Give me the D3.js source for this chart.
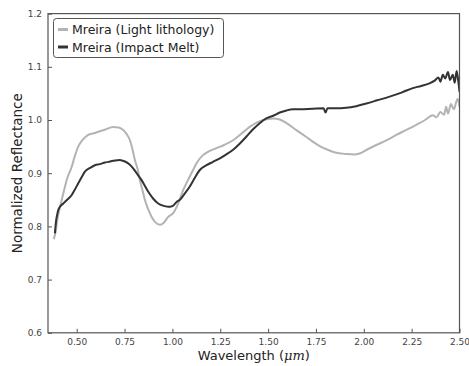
<!DOCTYPE html>
<html><head><meta charset="utf-8">
<script src="https://cdn.jsdelivr.net/npm/d3@7"></script>
<style>
body{margin:0;background:#fff;}
text{font-family:"DejaVu Sans",sans-serif;}
</style></head>
<body><svg id="c" width="469" height="366"></svg>
<script>
const lightWl = [0.38,0.39,0.40,0.415,0.43,0.45,0.474,0.49,0.508,0.53,0.56,0.59,0.613,0.65,0.69,0.72,0.743,0.76,0.778,0.79,0.804,0.82,0.83,0.845,0.856,0.875,0.891,0.91,0.935,0.955,0.978,1.004,1.03,1.056,1.08,1.108,1.13,1.16,1.19,1.23,1.27,1.317,1.36,1.404,1.44,1.474,1.50,1.526,1.561,1.596,1.648,1.70,1.735,1.77,1.805,1.85,1.909,1.95,1.978,2.02,2.065,2.12,2.17,2.22,2.274,2.32,2.36,2.38,2.40,2.42,2.43,2.44,2.455,2.47,2.483,2.49,2.50];
const lightRefl = [0.776,0.79,0.815,0.84,0.862,0.89,0.912,0.932,0.95,0.962,0.972,0.975,0.978,0.982,0.987,0.986,0.981,0.974,0.962,0.947,0.925,0.905,0.887,0.866,0.85,0.831,0.818,0.808,0.803,0.807,0.818,0.825,0.843,0.868,0.886,0.906,0.921,0.934,0.941,0.947,0.953,0.962,0.974,0.987,0.995,1.0,1.002,1.003,1.001,0.994,0.981,0.968,0.959,0.951,0.945,0.939,0.936,0.935,0.937,0.945,0.953,0.962,0.972,0.981,0.991,1.0,1.009,1.005,1.015,1.01,1.025,1.012,1.03,1.02,1.034,1.04,1.025];
const meltWl = [0.386,0.392,0.398,0.404,0.415,0.43,0.45,0.474,0.49,0.508,0.525,0.543,0.57,0.595,0.62,0.648,0.675,0.70,0.725,0.752,0.775,0.795,0.815,0.839,0.855,0.874,0.90,0.926,0.95,0.978,0.987,1.0,1.022,1.039,1.065,1.091,1.115,1.143,1.178,1.21,1.248,1.28,1.317,1.35,1.387,1.42,1.456,1.49,1.526,1.561,1.596,1.63,1.665,1.73,1.79,1.80,1.81,1.85,1.909,1.96,2.013,2.07,2.135,2.20,2.256,2.30,2.343,2.37,2.39,2.40,2.413,2.425,2.44,2.45,2.465,2.475,2.485,2.493,2.50];
const meltRefl = [0.787,0.81,0.822,0.831,0.838,0.843,0.85,0.859,0.869,0.881,0.892,0.903,0.91,0.915,0.917,0.92,0.922,0.924,0.925,0.922,0.917,0.909,0.899,0.887,0.877,0.865,0.852,0.843,0.839,0.837,0.837,0.838,0.846,0.85,0.862,0.875,0.89,0.906,0.915,0.921,0.928,0.935,0.944,0.955,0.969,0.982,0.994,1.003,1.008,1.014,1.018,1.02,1.02,1.021,1.022,1.014,1.022,1.022,1.023,1.026,1.031,1.037,1.044,1.052,1.06,1.064,1.069,1.074,1.08,1.072,1.085,1.078,1.09,1.075,1.085,1.07,1.092,1.075,1.053];
const xTicks = [0.5,0.75,1.0,1.25,1.5,1.75,2.0,2.25,2.5];
const yTicks = [0.6,0.7,0.8,0.9,1.0,1.1,1.2];
const seriesNames = ["Mreira (Light lithology)","Mreira (Impact Melt)"];
const seriesColors = ["#b3b3b3","#333333"];

const svg = d3.select("#c");
const L=48,R=459.5,T=13.6,B=332.8;
const x = d3.scaleLinear().domain([0.35,2.5]).range([L,R]);
const y = d3.scaleLinear().domain([0.6,1.2]).range([B,T]);
const axisCol="#555";

const gx = svg.append("g").attr("transform",`translate(0,${B})`)
  .call(d3.axisBottom(x).tickValues(xTicks).tickFormat(d3.format(".2f")).tickSizeInner(-4).tickSizeOuter(0).tickPadding(6));
const gy = svg.append("g").attr("transform",`translate(${L},0)`)
  .call(d3.axisLeft(y).tickValues(yTicks).tickFormat(d3.format(".1f")).tickSizeInner(-4).tickSizeOuter(0).tickPadding(6));
[gx,gy].forEach(g=>{
  g.select(".domain").remove();
  g.selectAll("line").attr("stroke",axisCol);
  g.selectAll("text").attr("fill","#444").style("font-size","9px").style("font-family","DejaVu Sans");
});

const line = d3.line().x(d=>x(d[0])).y(d=>y(d[1])).curve(d3.curveMonotoneX);
svg.append("clipPath").attr("id","clp").append("rect").attr("x",L).attr("y",T).attr("width",R-L).attr("height",B-T);
svg.append("path").datum(lightWl.map((w,i)=>[w,lightRefl[i]])).attr("d",line)
  .attr("fill","none").attr("stroke",seriesColors[0]).attr("stroke-width",2).attr("clip-path","url(#clp)");
svg.append("path").datum(meltWl.map((w,i)=>[w,meltRefl[i]])).attr("d",line)
  .attr("fill","none").attr("stroke",seriesColors[1]).attr("stroke-width",2).attr("clip-path","url(#clp)");

svg.append("rect").attr("x",L).attr("y",T).attr("width",R-L).attr("height",B-T)
  .attr("fill","none").attr("stroke",axisCol).attr("stroke-width",1.2);

const lg = svg.append("g");
lg.append("rect").attr("x",53.5).attr("y",18.5).attr("width",170).attr("height",39).attr("rx",3)
  .attr("fill","#fff").attr("stroke","#555").attr("stroke-width",1);
seriesNames.forEach((n,i)=>{
  const yy = 29.5 + i*17.5;
  lg.append("line").attr("x1",58).attr("x2",68).attr("y1",yy).attr("y2",yy).attr("stroke",seriesColors[i]).attr("stroke-width",3);
  lg.append("text").attr("x",72).attr("y",yy+4.5).text(n).style("font-size","12.5px").attr("fill","#222");
});

const xl = svg.append("text").attr("x",(L+R)/2).attr("y",360).attr("text-anchor","middle").style("font-size","13px").attr("fill","#222");
xl.append("tspan").text("Wavelength (");
xl.append("tspan").text("μm").style("font-style","italic").style("font-family","DejaVu Serif");
xl.append("tspan").text(")");
svg.append("text").attr("transform",`translate(22,${(T+B)/2}) rotate(-90)`).attr("text-anchor","middle")
  .style("font-size","13.5px").attr("fill","#222").text("Normalized Reflectance");
</script></body></html>
